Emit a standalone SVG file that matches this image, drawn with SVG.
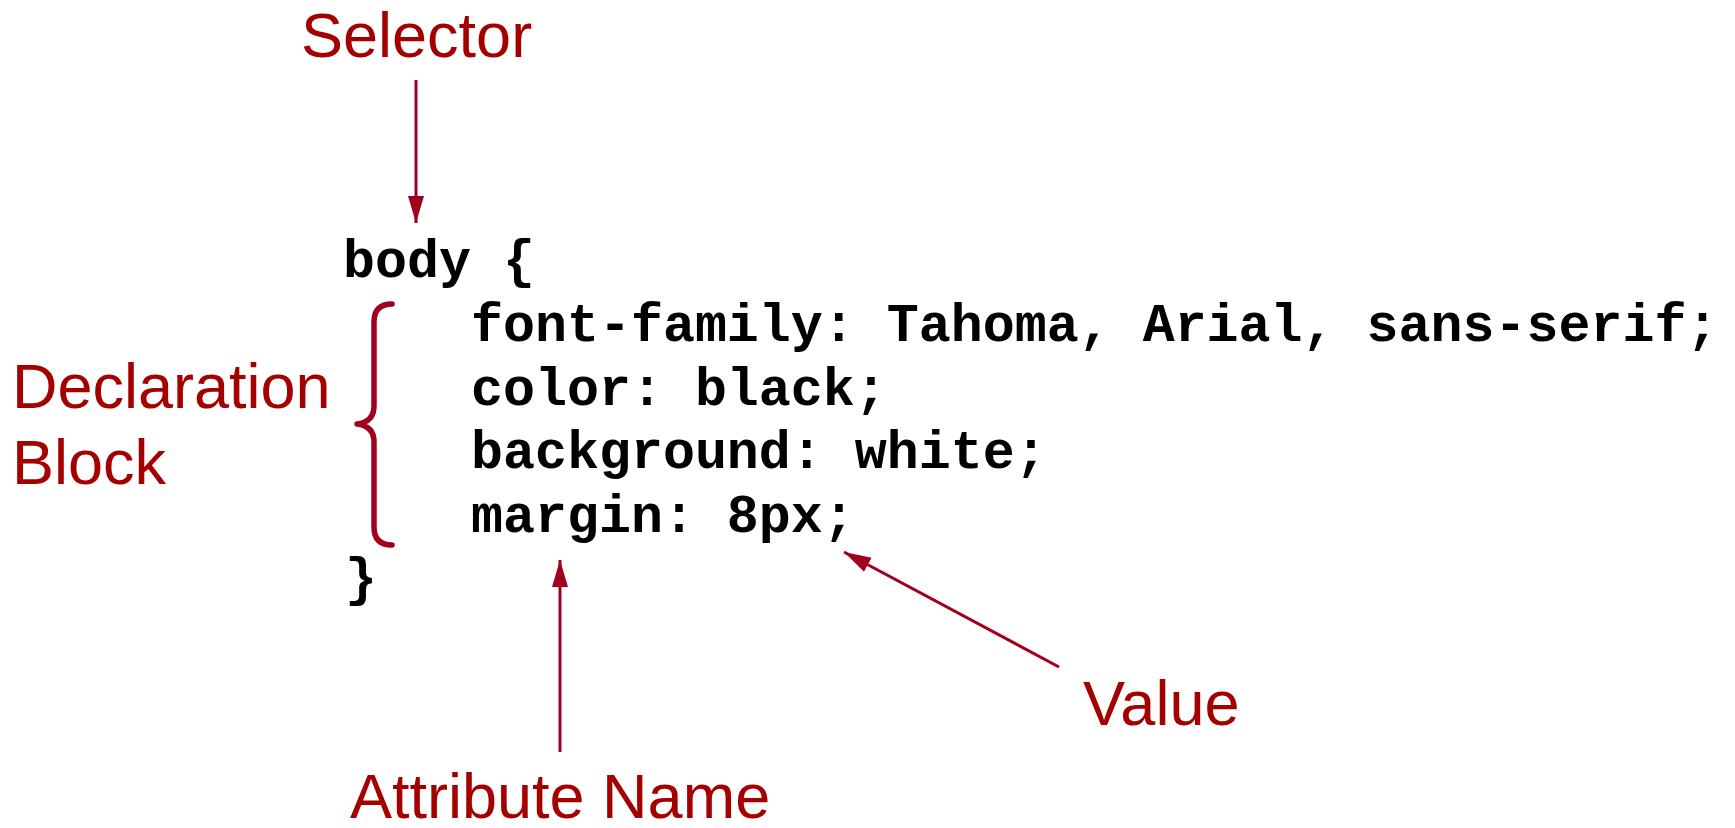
<svg xmlns="http://www.w3.org/2000/svg" width="1735" height="828" viewBox="0 0 1735 828">
<style>
.lbl{font-family:"Liberation Sans",Arial,sans-serif;font-size:63px;fill:#A50000}
.code{font-family:"Liberation Mono","Courier New",monospace;font-weight:bold;font-size:53.3px;fill:#000;white-space:pre}
.arr{stroke:#A0001E;stroke-width:3;fill:none}
</style>
<defs>
<marker id="ah" markerUnits="userSpaceOnUse" markerWidth="30" markerHeight="20" viewBox="0 0 30 20" refX="27" refY="10" orient="auto">
<path d="M0,2 L27,10 L0,18 Z" fill="#A0001E"/>
</marker>
</defs>
<rect width="1735" height="828" fill="#fff"/>
<g id="code">
<text class="code" x="343" y="277">body {</text>
<text class="code" x="471" y="341">font-family: Tahoma, Arial, sans-serif;</text>
<text class="code" x="471" y="405">color: black;</text>
<text class="code" x="471" y="468">background: white;</text>
<text class="code" x="471" y="532">margin: 8px;</text>
<text class="code" x="345" y="595">}</text>
</g>
<g id="selector"><text class="lbl" x="301" y="57">Selector</text></g>
<g id="declaration-block"><text class="lbl" x="12" y="408">Declaration</text><text class="lbl" x="12" y="484">Block</text>
<path d="M392,304 Q374,304 374,322 L374,406 Q374,422 357,424 Q374,426 374,442 L374,527 Q374,545 392,545" stroke="#A0001E" stroke-width="5.5" fill="none" stroke-linecap="round" stroke-linejoin="round"/></g>
<g id="attribute-name"><text class="lbl" x="350" y="818">Attribute Name</text></g>
<g id="value"><text class="lbl" x="1083" y="725">Value</text></g>
<g id="connectors">
<line class="arr" x1="416" y1="80" x2="416" y2="223" marker-end="url(#ah)"/>
<line class="arr" x1="560" y1="752" x2="560" y2="560" marker-end="url(#ah)"/>
<line class="arr" x1="1059" y1="667" x2="844" y2="552" marker-end="url(#ah)"/>
</g>
</svg>
